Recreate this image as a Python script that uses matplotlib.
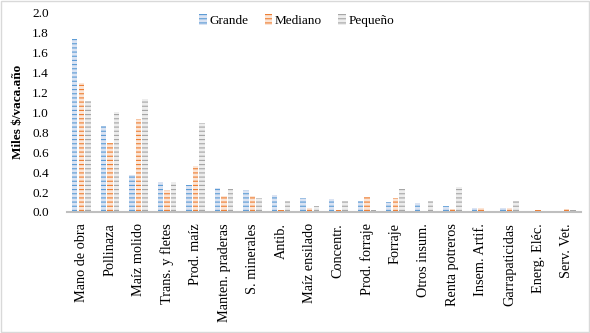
import matplotlib.pyplot as plt
import matplotlib.patches as mpatches
import numpy as np

plt.rcParams['font.family'] = ['Liberation Serif', 'DejaVu Serif']
plt.rcParams['hatch.linewidth'] = 0.8

categories = ['Mano de obra', 'Pollinaza', 'Maíz molido', 'Trans. y fletes', 'Prod. maíz',
              'Manten. praderas', 'S. minerales', 'Antib.', 'Maíz ensilado', 'Concentr.',
              'Prod. forraje', 'Forraje', 'Otros insum.', 'Renta potreros', 'Insem. Artif.',
              'Garrapaticidas', 'Energ. Eléc.', 'Serv. Vet.']
grande = [1.73, 0.86, 0.37, 0.30, 0.27, 0.24, 0.22, 0.17, 0.14, 0.13,
          0.11, 0.10, 0.09, 0.06, 0.04, 0.04, 0.01, 0.00]
mediano = [1.29, 0.69, 0.93, 0.22, 0.46, 0.16, 0.16, 0.02, 0.04, 0.02,
           0.15, 0.14, 0.01, 0.03, 0.04, 0.04, 0.02, 0.03]
pequeno = [1.11, 1.00, 1.13, 0.30, 0.89, 0.23, 0.14, 0.11, 0.06, 0.11,
           0.02, 0.23, 0.11, 0.25, 0.00, 0.11, 0.00, 0.02]

series = [('Grande', grande, '#dae3f3', '#5b9bd5'),
          ('Mediano', mediano, '#fbe5d6', '#ed7d31'),
          ('Pequeño', pequeno, '#ededed', '#a5a5a5')]

fig = plt.figure(figsize=(5.9, 3.33), dpi=100)
ax = fig.add_axes([0.1136, 0.3634, 0.871, 0.5996])

x = np.arange(len(categories))
w = 0.19
step = 0.23
for i, (name, vals, fill, line) in enumerate(series):
    ax.bar(x + (i - 1) * step, vals, w, color=fill, edgecolor=line,
           hatch='----', linewidth=0, label=name)

ax.set_xlim(-0.5, len(categories) - 0.5)
ax.set_ylim(0, 2.0)
ax.set_yticks(np.arange(0, 2.01, 0.2))
ax.set_yticklabels(['%.1f' % v for v in np.arange(0, 2.01, 0.2)], fontsize=9.5)
ax.set_xticks(x)
ax.set_xticklabels(categories, rotation=90, fontsize=10.3)
ax.tick_params(axis='both', length=0)
ax.tick_params(axis='y', pad=13)
ax.tick_params(axis='x', pad=8)
for s in ['top', 'right', 'left']:
    ax.spines[s].set_visible(False)
ax.spines['bottom'].set_color('#bfbfbf')
ax.spines['bottom'].set_linewidth(1.5)

ax.set_ylabel('Miles $/vaca.año', fontsize=9.5, fontweight='bold', labelpad=6)

ax.legend(loc='upper center', bbox_to_anchor=(0.447, 1.05), ncol=3, frameon=False,
          fontsize=9.5, handlelength=0.6, handleheight=0.9, handletextpad=0.2,
          columnspacing=1.2)

fig.patches.append(mpatches.Rectangle((0.001, 0.002), 0.997, 0.995, transform=fig.transFigure,
                                      fill=False, edgecolor='#d9d9d9', linewidth=1))

fig.savefig('out.png', dpi=100)
